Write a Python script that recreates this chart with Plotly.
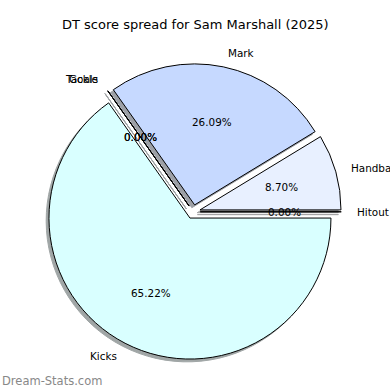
import numpy as np
import plotly.graph_objects as go

labels = ["Hitout", "Handball", "Mark", "Goals", "Tackle", "Kicks"]
values = [0, 2, 6, 0, 0, 15]
colors = ["#F2F6FF", "#E8F0FF", "#C6D9FF", "#DCE8FF", "#E0F4FF", "#D9FFFF"]
pulls = [0.05, 0.05, 0.05, 0.05, 0.05, 0.05]
title_text = "DT score spread for Sam Marshall (2025)"
watermark = "Dream-Stats.com"

W = H = 390
# pie geometry in pixels
CX, CY, R = 193.2, 211.8, 141.0
half = R * (1 + max(pulls))
SH = 2.8  # shadow offset px

def dom(cx, cy):
    return dict(x=[(cx - half) / W, (cx + half) / W],
                y=[1 - (cy + half) / H, 1 - (cy - half) / H])

def shade(c):
    c = c.lstrip("#")
    rgb = [int(c[i:i + 2], 16) for i in (0, 2, 4)]
    return "rgb(%d,%d,%d)" % tuple(round(0.5 * 255 + 0.15 * v) for v in rgb)

fig = go.Figure()
fig.add_trace(go.Pie(
    labels=labels, values=values, pull=pulls, sort=False,
    direction="counterclockwise", rotation=90,
    marker=dict(colors=[shade(c) for c in colors],
                line=dict(color=[shade(c) for c in colors], width=1)),
    textinfo="none", hoverinfo="skip", showlegend=False,
    domain=dom(CX - SH, CY + SH),
))
fig.add_trace(go.Pie(
    labels=labels, values=values, pull=pulls, sort=False,
    direction="counterclockwise", rotation=90,
    marker=dict(colors=colors, line=dict(color="black", width=1)),
    textinfo="none", showlegend=False,
    domain=dom(CX, CY),
))

# label & percentage positions computed from the data (matplotlib-style)
vals = np.array(values, dtype=float)
total = vals.sum()
theta0 = 0.0
annots = []
for lab, v, p in zip(labels, vals, pulls):
    frac = v / total
    mid = np.deg2rad(theta0 + 180 * frac)
    theta0 += 360 * frac
    ex = CX + p * R * np.cos(mid)
    ey = CY - p * R * np.sin(mid)
    lx = ex + 1.1 * R * np.cos(mid)
    ly = ey - 1.1 * R * np.sin(mid)
    annots.append(dict(x=lx / W, y=1 - ly / H, xref="paper", yref="paper",
                       text=lab, showarrow=False,
                       xanchor="left" if np.cos(mid) > 0 else "right",
                       yanchor="middle",
                       font=dict(family="DejaVu Sans", size=10.4, color="black")))
    px = ex + 0.6 * R * np.cos(mid)
    py = ey - 0.6 * R * np.sin(mid)
    annots.append(dict(x=px / W, y=1 - py / H, xref="paper", yref="paper",
                       text="%.2f%%" % (100 * frac), showarrow=False,
                       xanchor="center", yanchor="middle",
                       font=dict(family="DejaVu Sans", size=10.4, color="black")))

annots.append(dict(x=W / 2 / W, y=1 - 25 / H, xref="paper", yref="paper",
                   text=title_text, showarrow=False, xanchor="center", yanchor="middle",
                   font=dict(family="DejaVu Sans", size=13, color="black")))
annots.append(dict(x=0, y=1 - 381 / H, xref="paper", yref="paper",
                   text=watermark, showarrow=False, xanchor="left", yanchor="middle",
                   font=dict(family="DejaVu Sans", size=11.5, color="#888888")))

fig.update_layout(width=W, height=H, margin=dict(l=0, r=0, t=0, b=0),
                  paper_bgcolor="white", plot_bgcolor="white",
                  annotations=annots)
fig.write_html("out.html", config={"displayModeBar": False},
               post_script="document.body.style.margin='0';document.body.style.overflow='hidden';")
